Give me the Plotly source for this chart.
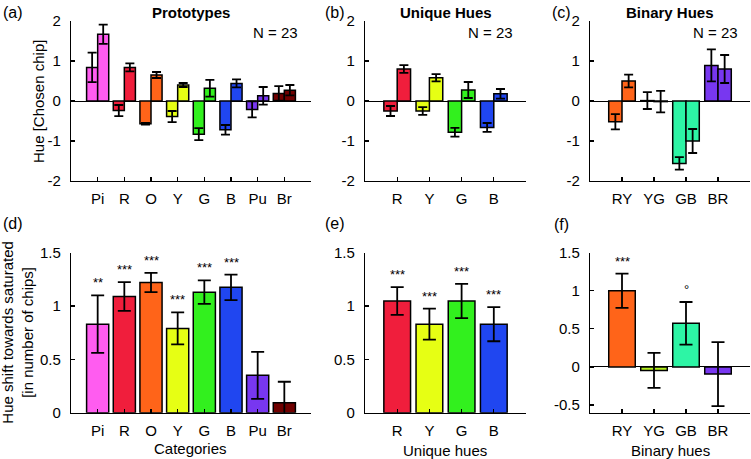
import plotly.graph_objects as go

W, H = 751, 459

# ---------------- data ----------------
proto_cats = ["Pi", "R", "O", "Y", "G", "B", "Pu", "Br"]
proto_colors = ["#FF5CF0", "#F01E3C", "#FF6419", "#E6FF14", "#32F01E", "#2046F0", "#7837F0", "#700000"]
proto_first = [0.84, -0.24, -0.57, -0.39, -0.83, -0.72, -0.21, 0.19]
proto_first_err = [0.37, 0.14, 0.02, 0.14, 0.15, 0.12, 0.20, 0.18]
proto_second = [1.67, 0.84, 0.65, 0.40, 0.32, 0.44, 0.13, 0.27]
proto_second_err = [0.24, 0.10, 0.075, 0.05, 0.21, 0.10, 0.22, 0.13]

unique_cats = ["R", "Y", "G", "B"]
unique_colors = ["#F01E3C", "#E6FF14", "#32F01E", "#2046F0"]
unique_first = [-0.25, -0.25, -0.78, -0.66]
unique_first_err = [0.125, 0.095, 0.11, 0.11]
unique_second = [0.80, 0.58, 0.275, 0.18]
unique_second_err = [0.095, 0.09, 0.20, 0.12]

binary_cats = ["RY", "YG", "GB", "BR"]
binary_colors = ["#FF6419", "#B4F01E", "#2DF5A5", "#7837F0"]
binary_first = [-0.52, 0.01, -1.56, 0.89]
binary_first_err = [0.19, 0.21, 0.155, 0.40]
binary_second = [0.50, -0.015, -1.00, 0.80]
binary_second_err = [0.16, 0.27, 0.30, 0.35]

shift_proto = [0.83, 1.09, 1.22, 0.79, 1.13, 1.175, 0.35, 0.094]
shift_proto_err = [0.27, 0.135, 0.09, 0.15, 0.11, 0.12, 0.22, 0.196]
shift_proto_sig = ["**", "***", "***", "***", "***", "***", "", ""]

shift_unique = [1.047, 0.83, 1.047, 0.83]
shift_unique_err = [0.13, 0.145, 0.16, 0.16]
shift_unique_sig = ["***", "***", "***", "***"]

shift_binary = [1.0, -0.045, 0.573, -0.093]
shift_binary_err = [0.225, 0.23, 0.28, 0.42]
shift_binary_sig = ["***", "", "°", ""]

top_ticks = [-2, -1, 0, 1, 2]
bottom_ticks = [0, 0.5, 1, 1.5]
binary_shift_ticks = [-0.5, 0, 0.5, 1, 1.5]

# ---------------- layout geometry (pixels) ----------------
def px_x(a, b):
    return [a / W, b / W]

def px_y(top, bottom):
    return [1 - bottom / H, 1 - top / H]

col_px = [(71, 311), (365, 526), (590, 750)]
top_row = (21, 181)
bot_row = (252.7, 412.7)

AX = "#000000"
FONT = "Liberation Sans, Arial, Helvetica, sans-serif"
FS = 15

fig = go.Figure()

def add_bars(idx, cats, vals, errs, colors, capw):
    x = list(range(1, len(cats) + 1))
    fig.add_trace(go.Bar(
        x=x, y=vals,
        marker=dict(color=colors, line=dict(color="#000", width=1.5)),
        error_y=dict(type="data", array=errs, visible=True, color="#000",
                     thickness=1.8, width=capw),
        xaxis="x" + ("" if idx == 1 else str(idx)),
        yaxis="y" + ("" if idx == 1 else str(idx)),
        showlegend=False, hoverinfo="skip",
    ))

add_bars(1, proto_cats, proto_first, proto_first_err, proto_colors, 4.5)
add_bars(1, proto_cats, proto_second, proto_second_err, proto_colors, 4.5)
add_bars(2, unique_cats, unique_first, unique_first_err, unique_colors, 4.5)
add_bars(2, unique_cats, unique_second, unique_second_err, unique_colors, 4.5)
add_bars(3, binary_cats, binary_first, binary_first_err, binary_colors, 4.5)
add_bars(3, binary_cats, binary_second, binary_second_err, binary_colors, 4.5)
add_bars(4, proto_cats, shift_proto, shift_proto_err, proto_colors, 6.5)
add_bars(5, unique_cats, shift_unique, shift_unique_err, unique_colors, 6.5)
add_bars(6, binary_cats, shift_binary, shift_binary_err, binary_colors, 6.5)

def xaxis(dom, cats, anchor):
    n = len(cats)
    return dict(domain=px_x(*dom), range=[0, n + 1], tickvals=list(range(1, n + 1)),
                ticktext=cats, ticks="inside", ticklen=4, tickwidth=1.2, tickcolor=AX,
                showline=True, linecolor=AX, linewidth=1.2, showgrid=False,
                zeroline=False, anchor=anchor, ticklabelstandoff=4, automargin=False,
                tickfont=dict(size=FS, family=FONT, color="#000"), fixedrange=True)

def yaxis(row, rng, ticks, anchor, zero):
    return dict(domain=px_y(*row), range=rng, tickvals=ticks,
                ticktext=[("-" + f"{abs(t):g}") if t < 0 else f"{t:g}" for t in ticks],
                ticks="inside", ticklen=4, tickwidth=1.2, tickcolor=AX,
                showline=True, linecolor=AX, linewidth=1.2, showgrid=False,
                zeroline=zero, zerolinecolor="#000", zerolinewidth=1,
                anchor=anchor, ticklabelstandoff=6, automargin=False,
                tickfont=dict(size=FS, family=FONT, color="#000"), fixedrange=True)

lay = dict(
    width=W, height=H, margin=dict(l=0, r=0, t=0, b=0, pad=0, autoexpand=False),
    paper_bgcolor="white", plot_bgcolor="white",
    font=dict(family=FONT, size=FS, color="#000"),
    barmode="group", bargap=0.17, bargroupgap=0.0, showlegend=False,
)
lay["xaxis"] = xaxis(col_px[0], proto_cats, "y")
lay["xaxis2"] = xaxis(col_px[1], unique_cats, "y2")
lay["xaxis3"] = xaxis(col_px[2], binary_cats, "y3")
lay["xaxis4"] = xaxis(col_px[0], proto_cats, "y4")
lay["xaxis5"] = xaxis(col_px[1], unique_cats, "y5")
lay["xaxis6"] = xaxis(col_px[2], binary_cats, "y6")
lay["yaxis"] = yaxis(top_row, [-2, 2], top_ticks, "x", True)
lay["yaxis2"] = yaxis(top_row, [-2, 2], top_ticks, "x2", True)
lay["yaxis3"] = yaxis(top_row, [-2, 2], top_ticks, "x3", True)
lay["yaxis4"] = yaxis(bot_row, [0, 1.5], bottom_ticks, "x4", False)
lay["yaxis5"] = yaxis(bot_row, [0, 1.5], bottom_ticks, "x5", False)
lay["yaxis6"] = yaxis(bot_row, [-0.6, 1.5], binary_shift_ticks, "x6", True)
fig.update_layout(**lay)

ann = []

def txt(x, y, text, size=FS, bold=False, angle=0, xanchor="center", yanchor="middle"):
    ann.append(dict(x=x / W, y=1 - y / H, xref="paper", yref="paper", text=("<b>%s</b>" % text) if bold else text,
                    showarrow=False, font=dict(size=size, family=FONT, color="#000"),
                    textangle=angle, xanchor=xanchor, yanchor=yanchor))

# panel letters
for lbl, x, y in [("(a)", 13, 12), ("(b)", 335, 12), ("(c)", 561, 12),
                  ("(d)", 13, 223), ("(e)", 335, 223), ("(f)", 561, 224)]:
    txt(x, y, lbl, size=16)

# titles
txt(191, 12, "Prototypes", size=15, bold=True)
txt(445.5, 12, "Unique Hues", size=15, bold=True)
txt(670, 12, "Binary Hues", size=15, bold=True)

# N = 23
for xr in [300, 515, 740]:
    txt(xr, 32, "N = 23", xanchor="right")

# axis titles
txt(38, 102, "Hue [Chosen chip]", angle=-90)
txt(18, 332.7, "Hue shift towards saturated<br>[in number of chips]", angle=-90)
txt(190, 448, "Categories")
txt(445, 450, "Unique hues")
txt(670, 450, "Binary hues")

# significance markers
def sig(axn, vals, errs, marks):
    for i, (v, e, m) in enumerate(zip(vals, errs, marks)):
        if not m:
            continue
        ann.append(dict(x=i + 1, y=max(v, 0) + e, xref="x%d" % axn, yref="y%d" % axn,
                        text=m, showarrow=False, yanchor="bottom", yshift=3,
                        font=dict(size=13, family=FONT, color="#000")))

sig(4, shift_proto, shift_proto_err, shift_proto_sig)
sig(5, shift_unique, shift_unique_err, shift_unique_sig)
sig(6, shift_binary, shift_binary_err, shift_binary_sig)

fig.update_layout(annotations=ann)
fig.write_html(
    "out.html",
    config={"displayModeBar": False, "staticPlot": True},
    post_script="document.body.style.margin='0';document.body.style.overflow='hidden';",
)
